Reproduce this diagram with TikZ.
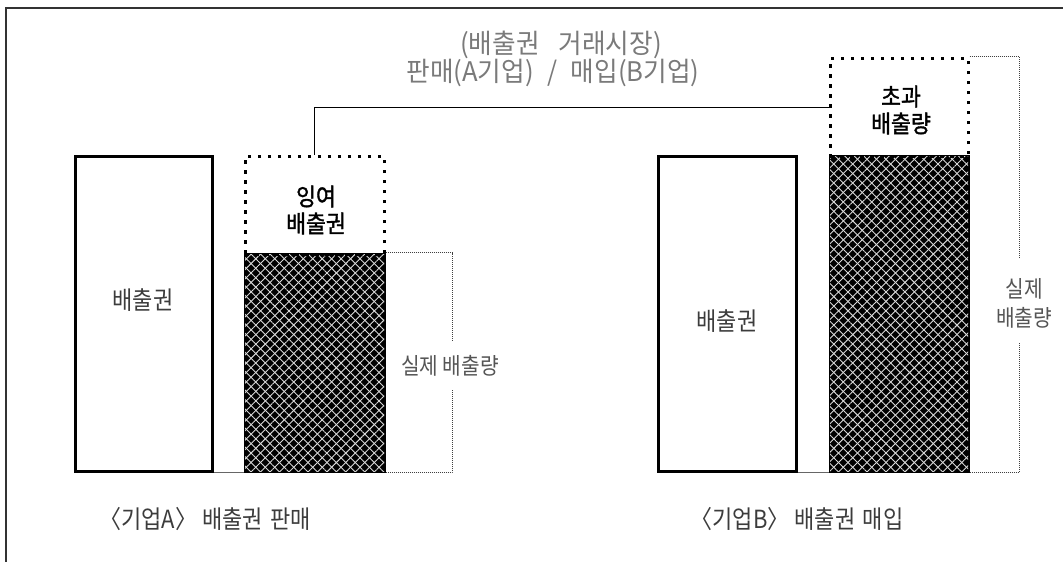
\documentclass[tikz,border=0pt]{standalone}
\usepackage{fontspec}
\usetikzlibrary{patterns.meta}
\newfontfamily\kr[FakeStretch=0.88]{Noto Sans CJK KR}
\newfontfamily\krt[FakeStretch=0.95]{Noto Sans CJK KR}
\newfontfamily\krb[FakeStretch=0.9,FakeBold=1.5]{Noto Sans CJK KR}
\definecolor{titlegray}{HTML}{7A7A7A}
\definecolor{txtgray}{HTML}{3C3C3C}
\definecolor{midgray}{HTML}{555555}
\tikzset{
  allowbox/.style={draw=black, line width=3pt, inner sep=0pt},
  hatchbox/.style={draw=black, line width=3pt, fill=black, inner sep=0pt,
    postaction={pattern={Lines[angle=45,distance=6.7pt,line width=0.9pt]}, pattern color=white!85!black},
    postaction={pattern={Lines[angle=-45,distance=6.7pt,line width=0.9pt]}, pattern color=white!85!black}},
  dotbox/.style={draw=black, line width=3pt, dash pattern=on 3.5pt off 6.5pt, inner sep=0pt},
  bracket/.style={draw=black!75, line width=0.8pt, dash pattern=on 1pt off 1pt},
  lbl/.style={font=\kr\fontsize{25}{29}\selectfont, text=txtgray, inner sep=0pt, align=center},
  boldlbl/.style={font=\krb\fontsize{24}{27}\selectfont, text=black, inner sep=0pt, align=center},
  title/.style={font=\krt\fontsize{27}{30}\selectfont, text=titlegray, inner sep=0pt},
}
\begin{document}
\begin{tikzpicture}[x=1pt,y=-1pt]
\useasboundingbox (0,0) rectangle (1063,562);
% frame (top and left only)
\draw[line width=2.2pt, black!80] (1063,8) -- (6,8) -- (6,562);

% company A
\node[allowbox, minimum width=137pt, minimum height=315pt] (Aallow) at (143.5,313.5) {};
\node[hatchbox, minimum width=139pt, minimum height=217pt] (Ahatch) at (314.5,362.5) {};
\node[dotbox, minimum width=139pt, minimum height=98pt] (Adot) at (314.5,205) {};
\draw[black!60, line width=1pt] (Aallow.south east) -- (Ahatch.south west);

% company B
\node[allowbox, minimum width=138pt, minimum height=315pt] (Ballow) at (727,313.5) {};
\node[hatchbox, minimum width=138pt, minimum height=315pt] (Bhatch) at (899,313.5) {};
\node[dotbox, minimum width=138pt, minimum height=98pt] (Bdot) at (899,107) {};
\draw[black!60, line width=1pt] (Ballow.south east) -- (Bhatch.south west);

% labels in boxes
\node[lbl] (AallowT) at (143,300) {배출권};
\node[lbl] (BallowT) at (727,321) {배출권};
\node[boldlbl] (AdotT) at (316,210) {잉여\\배출권};
\node[boldlbl] (BdotT) at (901,110) {초과\\배출량};

% brackets: actual emissions
\node[lbl, text=midgray, font=\kr\fontsize{23}{26}\selectfont] (Alab) at (450,366) {실제 배출량};
\coordinate (Atop) at (452,341);
\coordinate (Abot) at (452,390);
\draw[bracket] (Ahatch.north east) -| (Atop);
\draw[bracket] (Ahatch.south east) -| (Abot);

\node[lbl, text=midgray, font=\kr\fontsize{23}{29}\selectfont] (Blab) at (1024,303) {실제\\배출량};
\coordinate (Btop) at (1019,259);
\coordinate (Bbot) at (1019,343);
\draw[bracket] (Bdot.north east) -| (Btop);
\draw[bracket] (Bhatch.south east) -| (Bbot);

% market connector
\draw[black, line width=1pt] (Adot.north) |- (Bdot.west);

% titles
\node[title] (T1) at (561,45) {(배출권\hspace{0.7em}거래시장)};
\node[title] (T2) at (553,73) {판매(A기업)\hspace{0.5em}/\hspace{0.5em}매입(B기업)};

% captions
\node[lbl] (capA) at (205,519) {〈기업A〉 배출권\hspace{0.3em}판매};
\node[lbl] (capB) at (797,519) {〈기업B〉 배출권\hspace{0.3em}매입};
\end{tikzpicture}
\end{document}
